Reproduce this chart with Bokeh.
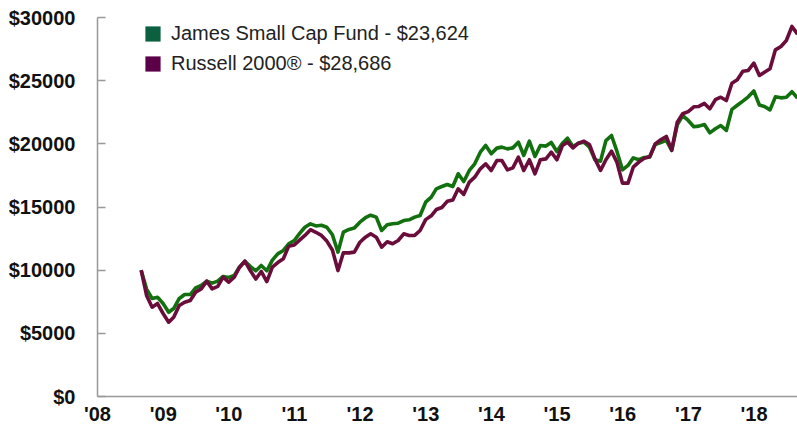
import pandas as pd
from datetime import datetime
from bokeh.plotting import figure
from bokeh.models import Range1d, FixedTicker, PrintfTickFormatter, Legend, LegendItem
from bokeh.embed import file_html
from bokeh.resources import INLINE

# Monthly growth of $10,000 (Aug 2008 - Aug 2018)
dates = pd.date_range("2008-08-31", periods=121, freq="ME")

james = [10000, 8500, 7760, 7860, 7360, 6670, 6960, 7760, 8070, 8070,
         8600, 8790, 9130, 8970, 9130, 9500, 9420, 9580, 10240, 10710,
         10300, 9950, 10370, 9950, 10800, 11290, 11560, 12090, 12350, 12930,
         13400, 13670, 13500, 13550, 13400, 12800, 11430, 13010, 13220, 13330,
         13800, 14150, 14350, 14200, 13140, 13590, 13670, 13720, 13930, 13990,
         14200, 14330, 15380, 15780, 16440, 16620, 16780, 16620, 17630, 17020,
         17890, 18420, 19340, 19870, 19210, 19660, 19740, 19600, 19680, 20130,
         19080, 20210, 19000, 19870, 19820, 20110, 19390, 20050, 20450, 19790,
         20050, 20130, 19740, 18740, 18630, 20260, 20660, 19420, 17940, 18290,
         18890, 18740, 18920, 18950, 19950, 20100, 20280, 19470, 21500, 22240,
         21850, 21350, 21400, 21530, 20870, 21190, 21450, 21060, 22730, 23050,
         23380, 23720, 24180, 23070, 22960, 22690, 23720, 23640, 23690, 24130,
         23624]

russell = [10000, 8000, 7070, 7360, 6570, 5880, 6280, 7200, 7460, 7600,
           8260, 8520, 9130, 8520, 8710, 9450, 9050, 9450, 10190, 10710,
           9970, 9300, 9900, 9100, 10240, 10600, 10900, 11900, 12000, 12400,
           12750, 13200, 13000, 12750, 12300, 11600, 9970, 11370, 11370, 11430,
           12210, 12610, 12880, 12610, 11820, 12250, 12090, 12350, 12880, 12750,
           12750, 13140, 14000, 14300, 14800, 14960, 15450, 15550, 16440, 16000,
           16970, 17360, 18020, 18420, 17890, 18680, 18680, 17940, 18100, 18950,
           17890, 18740, 17630, 18740, 18810, 19340, 18740, 19870, 20130, 19680,
           20050, 20210, 19950, 18810, 17890, 18740, 19420, 18550, 16890, 16890,
           18150, 18550, 18850, 19000, 20000, 20320, 20580, 19500, 21720, 22380,
           22550, 22930, 22960, 23200, 22770, 23490, 23690, 23430, 24800, 25070,
           25750, 25810, 26390, 25410, 25670, 25940, 27440, 27710, 28180, 29290,
           28686]

series_names = ["James Small Cap Fund - $23,624", "Russell 2000\u00ae - $28,686"]
line_colors = ["#12700f", "#6b0d3b"]
legend_colors = ["#0b6040", "#5c0048"]

year_values = list(range(2008, 2019))
year_labels = ["'08", "'09", "'10", "'11", "'12", "'13", "'14", "'15", "'16", "'17", "'18"]
y_ticks = [0, 5000, 10000, 15000, 20000, 25000, 30000]

p = figure(width=797, height=427, output_backend="svg", toolbar_location=None,
           x_axis_type="datetime",
           x_range=Range1d(datetime(2008, 1, 1), datetime(2018, 8, 31)),
           y_range=Range1d(0, 30000),
           min_border_left=97, min_border_right=0, min_border_top=17,
           min_border_bottom=31)
p.outline_line_color = None
p.grid.visible = False
p.background_fill_color = "white"
p.border_fill_color = "white"

r_j = p.line(dates, james, line_color=line_colors[0], line_width=3.6, line_join="round")
r_r = p.line(dates, russell, line_color=line_colors[1], line_width=3.6, line_join="round")

# legend swatches (not plotted: NaN extents)
nan = float("nan")
s_j = p.quad(left=[nan], right=[nan], top=[nan], bottom=[nan],
             fill_color=legend_colors[0], line_color=None)
s_r = p.quad(left=[nan], right=[nan], top=[nan], bottom=[nan],
             fill_color=legend_colors[1], line_color=None)

legend = Legend(items=[LegendItem(label=series_names[0], renderers=[s_j]),
                       LegendItem(label=series_names[1], renderers=[s_r])],
                location=(46, 319), orientation="vertical",
                glyph_width=19, glyph_height=19, label_standoff=9,
                label_height=27, spacing=3, padding=0, margin=0,
                border_line_color=None, background_fill_alpha=0,
                label_text_font="Liberation Sans", label_text_font_size="20px",
                label_text_color="#222222")
p.add_layout(legend)

tick_ms = [int(pd.Timestamp(f"{y}-01-01").timestamp() * 1000) for y in year_values]
p.xaxis.ticker = FixedTicker(ticks=tick_ms)
p.xaxis.major_label_overrides = {t: lab for t, lab in zip(tick_ms, year_labels)}
p.xaxis.major_tick_in = 0
p.xaxis.major_tick_out = 0
p.xaxis.minor_tick_in = 0
p.xaxis.minor_tick_out = 0
p.xaxis.major_label_standoff = 6

p.yaxis.ticker = FixedTicker(ticks=y_ticks)
p.yaxis.formatter = PrintfTickFormatter(format="$%d")
p.yaxis.major_tick_in = 8
p.yaxis.major_tick_out = 0
p.yaxis.minor_tick_in = 0
p.yaxis.minor_tick_out = 0
p.yaxis.major_label_standoff = 22

for ax in (p.xaxis, p.yaxis):
    ax.axis_line_color = "#999999"
    ax.axis_line_width = 1.5
    ax.major_tick_line_color = "#999999"
    ax.major_tick_line_width = 1.5
    ax.major_label_text_font = "Liberation Sans"
    ax.major_label_text_font_style = "bold"
    ax.major_label_text_font_size = "20px"
    ax.major_label_text_color = "#111111"

open("out.html", "w").write(file_html(p, INLINE))
